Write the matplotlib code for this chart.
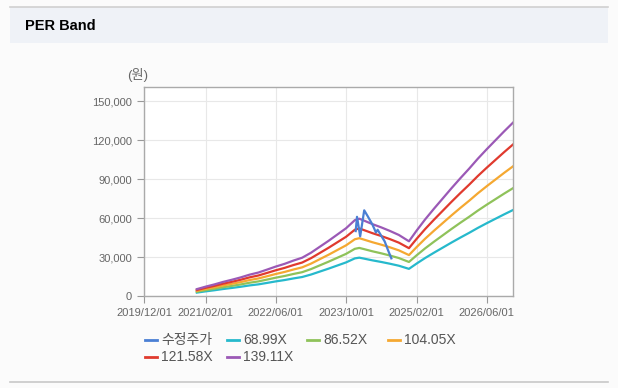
import pandas as pd
import matplotlib.pyplot as plt
from matplotlib.lines import Line2D
from matplotlib.patches import Rectangle

plt.rcParams['font.family'] = ['Liberation Sans', 'Noto Sans CJK KR', 'DejaVu Sans']

# EPS base (band value / multiple)
band_dates = ["2020-12-01", "2021-02-01", "2021-04-01", "2021-06-01", "2021-08-01",
              "2021-10-01", "2021-12-01", "2022-02-01", "2022-04-01", "2022-06-01",
              "2022-08-01", "2022-10-01", "2022-12-01", "2023-02-01", "2023-04-01",
              "2023-06-01", "2023-08-01", "2023-10-01", "2023-12-01", "2024-01-01",
              "2024-02-01", "2024-04-01", "2024-06-01", "2024-08-01", "2024-10-01",
              "2024-12-10", "2025-02-01", "2025-04-01", "2025-06-01", "2025-08-01",
              "2025-10-01", "2025-12-01", "2026-02-01", "2026-04-01", "2026-06-01",
              "2026-08-01", "2026-10-01", "2026-12-01"]
eps = [38, 52, 64, 78, 90, 103, 118, 130, 146, 163,
       178, 196, 212, 240, 272, 305, 340, 375, 420, 428,
       418, 398, 380, 360, 338, 303, 362, 424, 483, 540,
       597, 652, 706, 760, 812, 862, 912, 960]

multiples = [68.99, 86.52, 104.05, 121.58, 139.11]
band_labels = ["68.99X", "86.52X", "104.05X", "121.58X", "139.11X"]

price_dates = ["2023-12-07", "2023-12-16", "2024-01-07", "2024-02-04", "2024-02-28",
               "2024-04-01", "2024-04-25", "2024-05-07", "2024-06-25", "2024-07-19",
               "2024-08-10"]
price = [50000, 61000, 46000, 66000, 61500, 55000, 49000, 51000, 42000, 35000, 29000]

tick_dates = ["2019-12-01", "2021-02-01", "2022-06-01", "2023-10-01", "2025-02-01", "2026-06-01"]
tick_labels = ["2019/12/01", "2021/02/01", "2022/06/01", "2023/10/01", "2025/02/01", "2026/06/01"]
y_ticks = [0, 30000, 60000, 90000, 120000, 150000]

price_color = "#4a7fd4"
band_colors = ["#26b9cc", "#8fc25a", "#f5a831", "#e03a2e", "#9b59b6"]

W, H = 618, 388
fig = plt.figure(figsize=(W / 100, H / 100), dpi=100)
fig.patch.set_facecolor("#fbfbfb")

# header band
fig.patches.append(Rectangle((10 / W, 1 - 43 / H), 1 - 20 / W, 36 / H, transform=fig.transFigure,
                             facecolor="#eff2f7", edgecolor="none", zorder=0))
fig.lines.append(Line2D([10 / W, 1 - 10 / W], [1 - 7 / H, 1 - 7 / H], transform=fig.transFigure,
                        color="#d0d0d0", lw=1.2))
fig.lines.append(Line2D([10 / W, 1 - 10 / W], [1 - 382 / H, 1 - 382 / H], transform=fig.transFigure,
                        color="#c8c8c8", lw=1.2))
fig.text(25 / W, 1 - 26 / H, "PER Band", fontsize=10.5, fontweight="bold", va="center", ha="left")

ax = fig.add_axes([144 / W, 1 - 296 / H, 369 / W, 209 / H])
ax.set_facecolor("white")

bd = pd.to_datetime(band_dates)
for m, c in zip(multiples, band_colors):
    ax.plot(bd, [e * m for e in eps], color=c, lw=1.6)
ax.plot(pd.to_datetime(price_dates), price, color=price_color, lw=1.6)

ax.set_xlim(pd.Timestamp("2019-12-01"), pd.Timestamp("2026-12-01"))
ax.set_ylim(0, 161000)
ax.set_xticks(pd.to_datetime(tick_dates))
ax.set_xticklabels(tick_labels)
ax.set_yticks(y_ticks)
ax.set_yticklabels([f"{v:,}" for v in y_ticks])
ax.tick_params(labelsize=8, colors="#999999", labelcolor="#666666", length=5, width=0.8)
ax.grid(True, color="#e8e8e8", lw=0.8)
ax.set_axisbelow(True)
for s in ax.spines.values():
    s.set_color("#aaaaaa")
    s.set_linewidth(1)

fig.text(138 / W, 1 - 75 / H, "(원)", fontsize=9.5, color="#666666", ha="center", va="center")

# legend laid out by hand, 4 per row
names = ["수정주가"] + band_labels
colors = [price_color] + band_colors
col_x = [145, 227, 307, 388]
row_y = [340, 357]
for i, (n, c) in enumerate(zip(names, colors)):
    x0 = col_x[i % 4]
    y0 = 1 - row_y[i // 4] / H
    fig.lines.append(Line2D([x0 / W, (x0 + 12) / W], [y0, y0], transform=fig.transFigure,
                            color=c, lw=2))
    fig.text((x0 + 16) / W, y0, n, fontsize=10, color="#555555", va="center", ha="left")

fig.savefig("out.png", dpi=100)
